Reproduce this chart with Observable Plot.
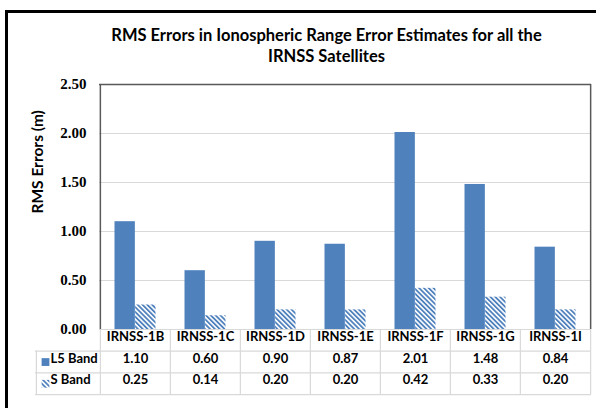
<!DOCTYPE html>
<html>
<head>
<meta charset="utf-8">
<script src="https://cdn.jsdelivr.net/npm/d3@7"></script>
<script src="https://cdn.jsdelivr.net/npm/@observablehq/plot@0.6"></script>
<style>
  html, body { margin: 0; padding: 0; background: #fff; overflow: hidden; }
  #wrap { position: relative; width: 600px; height: 408px; overflow: hidden; }
  .bar { position: absolute; background: #000; pointer-events: none; }
  #btop { left: 5px; top: 10px; width: 591px; height: 3px; }
  #bleft { left: 5px; top: 10px; width: 3px; height: 398px; }
  #chart svg { display: block; }
</style>
</head>
<body>
<div id="wrap"><div id="chart"></div><div class="bar" id="btop"></div><div class="bar" id="bleft"></div></div>
<script>
const categories = ["IRNSS-1B", "IRNSS-1C", "IRNSS-1D", "IRNSS-1E", "IRNSS-1F", "IRNSS-1G", "IRNSS-1I"];
const l5Band = [1.10, 0.60, 0.90, 0.87, 2.01, 1.48, 0.84];
const sBand = [0.25, 0.14, 0.20, 0.20, 0.42, 0.33, 0.20];
const seriesNames = ["L5 Band", "S Band"];
const yTicks = [0, 0.5, 1.0, 1.5, 2.0, 2.5];
const gridTicks = [0.5, 1.0, 1.5, 2.0];
const titleLines = ["RMS Errors in Ionospheric Range Error Estimates for all the", "IRNSS Satellites"];
const yLabel = "RMS Errors (m)";

const W = 600, H = 408, mL = 99, mR = 9, mT = 84, mB = 79;
const bw = (W - mL - mR) / categories.length;
const frameH = H - mT - mB;
const rowH = 21.7;
const legendW = 64;

const l5Data = categories.map((c, i) => ({cat: c, v: l5Band[i]}));
const sData = categories.map((c, i) => ({cat: c, v: sBand[i]}));

const font = {fontFamily: "Lato", fontWeight: "bold"};
const blue = "#4f81bd";
const grid = "#d9d9d9";
const dark = "#595959";

const plot = Plot.plot({
  width: W, height: H,
  marginLeft: mL, marginRight: mR, marginTop: mT, marginBottom: mB,
  style: {background: "transparent", overflow: "visible"},
  x: {type: "band", domain: categories, padding: 0, axis: null},
  y: {domain: [0, 2.5], axis: null},
  marks: [
    Plot.gridY(gridTicks, {stroke: grid, strokeOpacity: 1, strokeWidth: 1.2}),
    Plot.barY(l5Data, {x: "cat", y: "v", fill: blue, insetLeft: 14.5, insetRight: bw / 2}),
    Plot.barY(sData, {x: "cat", y: "v", fill: "url(#hatch)", insetLeft: bw / 2, insetRight: 14.5}),
    Plot.axisY(yTicks, {tickSize: 0, tickPadding: 13, tickFormat: d3.format(".2f"), label: null,
      fontFamily: "Liberation Serif", fontWeight: "bold", fontSize: 15, fill: "#000"}),
    // table horizontal lines
    Plot.ruleY([0], {stroke: grid, strokeWidth: 1.2}),
    Plot.ruleY([0], {stroke: grid, strokeWidth: 1.2, dy: rowH, insetLeft: -legendW}),
    Plot.ruleY([0], {stroke: grid, strokeWidth: 1.2, dy: 2 * rowH, insetLeft: -legendW}),
    Plot.ruleY([0], {stroke: grid, strokeWidth: 1.2, dy: 3 * rowH, insetLeft: -legendW}),
    // table vertical lines
    Plot.ruleX(categories, {dx: -bw / 2, stroke: grid, strokeWidth: 1.2, insetTop: frameH, insetBottom: -3 * rowH}),
    Plot.ruleX(categories.slice(-1), {dx: bw / 2, stroke: grid, strokeWidth: 1.2, insetTop: frameH, insetBottom: -3 * rowH}),
    Plot.ruleX(categories.slice(0, 1), {dx: -bw / 2 - legendW, stroke: grid, strokeWidth: 1.2, insetTop: frameH + rowH, insetBottom: -3 * rowH}),
    // plot frame (top, left, right)
    Plot.ruleY([2.5], {stroke: dark, strokeWidth: 1.5}),
    Plot.ruleX(categories.slice(0, 1), {dx: -bw / 2, y1: 0, y2: 2.5, stroke: dark, strokeWidth: 1.5}),
    Plot.ruleX(categories.slice(-1), {dx: bw / 2, y1: 0, y2: 2.5, stroke: dark, strokeWidth: 1.5}),
    // table text
    Plot.text(categories, {x: d => d, frameAnchor: "bottom", dy: rowH / 2 + 0.5, fontSize: 13, fill: "#000", ...font}),
    Plot.text(l5Data, {x: "cat", text: d => d.v.toFixed(2), frameAnchor: "bottom", dy: rowH * 1.5 + 0.5, fontSize: 13, fill: "#000", ...font}),
    Plot.text(sData, {x: "cat", text: d => d.v.toFixed(2), frameAnchor: "bottom", dy: rowH * 2.5 + 0.5, fontSize: 13, fill: "#000", ...font}),
    // legend column
    Plot.dot([seriesNames[0]], {frameAnchor: "bottom-left", dx: -54, dy: rowH * 1.5, symbol: "square", r: 4.4, fill: blue, stroke: null}),
    Plot.dot([seriesNames[1]], {frameAnchor: "bottom-left", dx: -54, dy: rowH * 2.5, symbol: "square", r: 4.4, fill: "url(#hatch)", stroke: null}),
    Plot.text([seriesNames[0]], {frameAnchor: "bottom-left", dx: -49, dy: rowH * 1.5 + 0.5, textAnchor: "start", fontSize: 13, fill: "#000", ...font}),
    Plot.text([seriesNames[1]], {frameAnchor: "bottom-left", dx: -49, dy: rowH * 2.5 + 0.5, textAnchor: "start", fontSize: 13, fill: "#000", ...font}),
    // title
    Plot.text([titleLines.join("\n")], {frameAnchor: "top", dx: -19, dy: -58, lineHeight: 1.25, fontSize: 16.5, fill: "#000", ...font}),
    // y label
    Plot.text([yLabel], {frameAnchor: "left", dx: -61, dy: 6.5, rotate: -90, fontSize: 15.5, fill: "#000", ...font})
  ]
});

// hatch pattern for S Band
const svg = d3.select(plot);
const defs = svg.insert("defs", ":first-child");
const pat = defs.append("pattern")
  .attr("id", "hatch")
  .attr("patternUnits", "userSpaceOnUse")
  .attr("width", 3.4).attr("height", 3.4)
  .attr("patternTransform", "rotate(-45)");
pat.append("rect").attr("width", 3.4).attr("height", 3.4).attr("fill", "#fff");
pat.append("rect").attr("width", 1.8).attr("height", 3.4).attr("fill", blue);

document.getElementById("chart").appendChild(plot);
</script>
</body>
</html>
